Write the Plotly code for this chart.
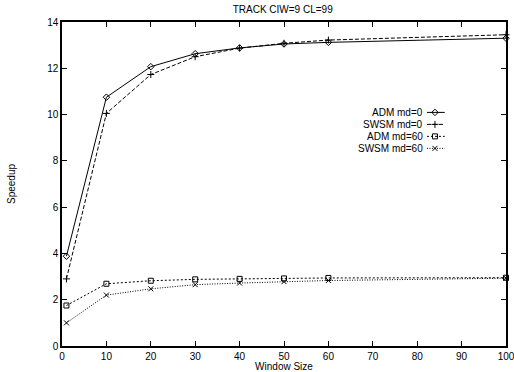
import plotly.graph_objects as go

window_size = [1, 10, 20, 30, 40, 50, 60, 100]
adm_md0 = [3.88, 10.75, 12.07, 12.63, 12.88, 13.05, 13.12, 13.30]
swsm_md0 = [2.9, 10.05, 11.73, 12.5, 12.87, 13.08, 13.22, 13.45]
adm_md60 = [1.75, 2.69, 2.82, 2.88, 2.9, 2.92, 2.94, 2.95]
swsm_md60 = [1.0, 2.2, 2.47, 2.65, 2.72, 2.78, 2.83, 2.93]

names = ["ADM md=0", "SWSM md=0", "ADM md=60", "SWSM md=60"]
series = [adm_md0, swsm_md0, adm_md60, swsm_md60]
dashes = ["solid", "4px,2px", "2px,2px", "1px,1.5px"]
symbols = ["diamond-open", "cross-thin-open", "square-open", "x-thin-open"]
sizes = [5, 5, 5, 5]

fig = go.Figure()
for n, s, d, sym, sz in zip(names, series, dashes, symbols, sizes):
    fig.add_trace(go.Scatter(
        x=window_size, y=s, mode="lines+markers", name=n,
        line=dict(color="black", width=1, dash=d),
        marker=dict(symbol=sym, size=sz, color="black", line=dict(color="black", width=1)),
        showlegend=False, cliponaxis=False,
    ))

# manual legend (text left of sample, gnuplot style)
leg_y = [0.721, 0.684, 0.647, 0.610]
for i, (n, d, sym, sz) in enumerate(zip(names, dashes, symbols, sizes)):
    fig.add_trace(go.Scatter(
        x=[0.822, 0.862], y=[leg_y[i], leg_y[i]], mode="lines",
        line=dict(color="black", width=1, dash=d), xaxis="x2", yaxis="y2",
        showlegend=False, hoverinfo="skip"))
    fig.add_trace(go.Scatter(
        x=[0.84], y=[leg_y[i]], mode="markers",
        marker=dict(symbol=sym, size=sz, color="black", line=dict(color="black", width=1)),
        xaxis="x2", yaxis="y2", showlegend=False, hoverinfo="skip"))
    fig.add_annotation(x=0.816, y=leg_y[i], xref="paper", yref="paper", text=n,
                       showarrow=False, xanchor="right", yanchor="middle", borderpad=0,
                       font=dict(size=10, color="black"))

fig.update_layout(
    width=514, height=372,
    margin=dict(l=62, r=8, t=22, b=26),
    paper_bgcolor="white", plot_bgcolor="white",
    font=dict(family="Liberation Sans, Arial, sans-serif", size=10, color="black"),
    title=dict(text="TRACK CIW=9 CL=99", x=0.55, xanchor="center", y=0.985, yanchor="top",
               font=dict(size=10)),
    xaxis=dict(range=[0, 100], tickmode="array", tickvals=list(range(0, 101, 10)),
               ticks="inside", ticklen=5, tickcolor="black", showline=True, linecolor="black",
               linewidth=1.5, mirror="ticks", showgrid=False, zeroline=False, automargin=False,
               ticklabeloverflow="allow",
               title=dict(text="Window Size", standoff=2, font=dict(size=10))),
    yaxis=dict(range=[0, 14], tickmode="array", tickvals=list(range(0, 15, 2)),
               ticks="inside", ticklen=5, tickcolor="black", showline=True, linecolor="black",
               linewidth=1.5, mirror="ticks", showgrid=False, zeroline=False, automargin=False,
               ticklabeloverflow="allow",
               title=dict(text="Speedup", standoff=30, font=dict(size=10))),
    xaxis2=dict(range=[0, 1], overlaying="x", visible=False, anchor="y2"),
    yaxis2=dict(range=[0, 1], overlaying="y", visible=False, anchor="x2"),
)

fig.write_html("out.html")
